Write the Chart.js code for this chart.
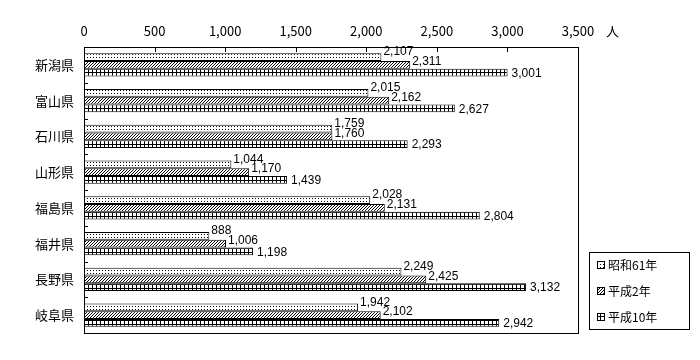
<!DOCTYPE html>
<html>
<head>
<meta charset="utf-8">
<script src="https://cdn.jsdelivr.net/npm/chart.js@4"></script>
<style>
    body { margin: 0; background: #fff; }
    #wrap { width: 700px; height: 360px; }
</style>
</head>
<body>
<div id="wrap"><canvas id="prefChart" width="700" height="360"></canvas></div>
<script>
// Data
const prefectures = ['新潟県', '富山県', '石川県', '山形県', '福島県', '福井県', '長野県', '岐阜県'];
const seriesNames = ['昭和61年', '平成2年', '平成10年'];
const showa61 = [2107, 2015, 1759, 1044, 2028, 888, 2249, 1942];
const heisei2 = [2311, 2162, 1760, 1170, 2131, 1006, 2425, 2102];
const heisei10 = [3001, 2627, 2293, 1439, 2804, 1198, 3132, 2942];
const xTicks = [0, 500, 1000, 1500, 2000, 2500, 3000, 3500];

const jpFont = '"Noto Sans CJK JP", "Noto Sans", sans-serif';
const numFont = '"Liberation Sans Narrow", "Liberation Sans", sans-serif';

// Fill patterns
function makePattern(kind) {
    const c = document.createElement('canvas');
    const s = kind === 'grid' ? 4 : 3;
    c.width = s; c.height = s;
    const g = c.getContext('2d');
    g.fillStyle = '#fff';
    g.fillRect(0, 0, s, s);
    g.fillStyle = '#000';
    if (kind === 'dots') {
        g.fillRect(0, 0, 1, 1);
    } else if (kind === 'diag') {
        g.fillRect(2, 0, 1, 1);
        g.fillRect(1, 1, 1, 1);
        g.fillRect(0, 2, 1, 1);
    } else {
        g.fillRect(0, 0, s, 1);
        g.fillRect(0, 0, 1, s);
    }
    return document.getElementById('prefChart').getContext('2d').createPattern(c, 'repeat');
}
const patterns = [makePattern('dots'), makePattern('diag'), makePattern('grid')];

// Box, inside ticks, value labels and legend
const decorPlugin = {
    id: 'decor',
    afterDatasetsDraw(chart) {
        const ctx = chart.ctx;
        const a = chart.chartArea;
        const xs = chart.scales.x;
        ctx.save();
        ctx.strokeStyle = '#000';
        ctx.lineWidth = 1;
        ctx.strokeRect(Math.round(a.left) + 0.5, Math.round(a.top) + 0.5,
            Math.round(a.right - a.left), Math.round(a.bottom - a.top));
        ctx.beginPath();
        xTicks.slice(1, -1).forEach(v => {
            const x = Math.round(xs.getPixelForValue(v)) + 0.5;
            ctx.moveTo(x, a.top);
            ctx.lineTo(x, a.top + 5);
        });
        const step = (a.bottom - a.top) / prefectures.length;
        for (let i = 1; i < prefectures.length; i++) {
            const y = Math.round(a.top + step * i) + 0.5;
            ctx.moveTo(a.left, y);
            ctx.lineTo(a.left + 4, y);
        }
        ctx.stroke();

        // value labels
        ctx.fillStyle = '#000';
        ctx.font = '12px ' + numFont;
        ctx.textAlign = 'left';
        ctx.textBaseline = 'middle';
        const dys = [-5, -3, 1];
        const dxs = [2, 2, 4];
        chart.data.datasets.forEach((ds, di) => {
            chart.getDatasetMeta(di).data.forEach((bar, i) => {
                ctx.fillText(ds.data[i].toLocaleString('en-US'), bar.x + dxs[di], bar.y + dys[di]);
            });
        });

        // unit
        ctx.font = '13px ' + jpFont;
        ctx.fillText('人', 606, 31);

        // legend
        ctx.strokeRect(589.5, 252.5, 100, 77);
        ctx.font = '12px ' + jpFont;
        seriesNames.forEach((name, i) => {
            const y = 265 + i * 26;
            ctx.fillStyle = patterns[i];
            ctx.fillRect(597, y - 4, 8, 8);
            ctx.strokeRect(597.5, y - 3.5, 7, 7);
            ctx.fillStyle = '#000';
            ctx.fillText(name, 608, y);
        });
        ctx.restore();
    }
};

const ctx = document.getElementById('prefChart').getContext('2d');
const prefChart = new Chart(ctx, {
    type: 'bar',
    data: {
        labels: prefectures,
        datasets: [showa61, heisei2, heisei10].map((vals, i) => ({
            label: seriesNames[i],
            data: vals,
            backgroundColor: patterns[i],
            borderColor: '#000',
            borderWidth: 1,
            borderSkipped: false,
            categoryPercentage: 0.65,
            barPercentage: 1
        }))
    },
    options: {
        indexAxis: 'y',
        responsive: false,
        animation: false,
        devicePixelRatio: 1,
        layout: { padding: { left: 0, right: 122, top: 0, bottom: 27 } },
        plugins: {
            legend: { display: false },
            tooltip: { enabled: false }
        },
        scales: {
            x: {
                position: 'top',
                min: 0,
                max: 3500,
                afterBuildTicks: scale => { scale.ticks = xTicks.map(v => ({ value: v })); },
                afterFit: scale => { scale.height = 47; },
                grid: { display: false },
                border: { display: false },
                ticks: {
                    color: '#000',
                    font: { family: jpFont, size: 13 },
                    padding: 0,
                    maxRotation: 0,
                    callback: v => v.toLocaleString('en-US')
                }
            },
            y: {
                afterFit: scale => { scale.width = 84; },
                grid: { display: false },
                border: { display: false },
                ticks: {
                    color: '#000',
                    font: { family: jpFont, size: 13 },
                    padding: 2
                }
            }
        }
    },
    plugins: [decorPlugin]
});
</script>
</body>
</html>
